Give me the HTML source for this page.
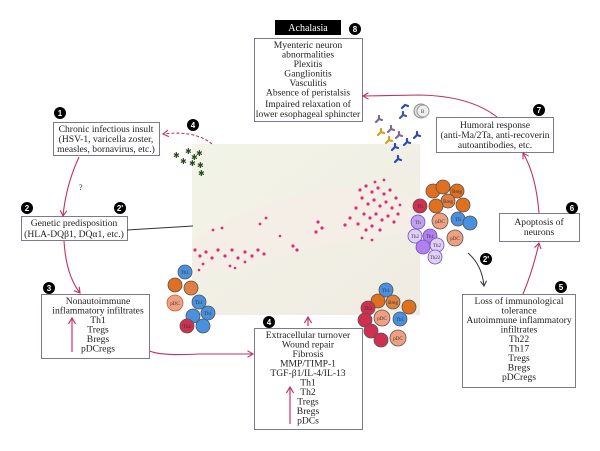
<!DOCTYPE html>
<html><head><meta charset="utf-8"><style>
html,body{margin:0;padding:0;background:#fff;width:600px;height:451px;overflow:hidden}
svg{display:block}
text{font-family:"Liberation Serif",serif;font-size:9.6px;fill:#222}
.n{font-family:"Liberation Sans",sans-serif;font-size:8px;font-weight:bold;fill:#fff}
.b{fill:#fff;stroke:#7a7a8a;stroke-width:1}
.a{fill:none;stroke:#c0306a;stroke-width:1.1}
.c{font-family:"Liberation Serif",serif;font-size:5px;fill:#333}
</style></head><body>
<svg width="600" height="451" viewBox="0 0 600 451">
<defs>
<marker id="m" markerWidth="8" markerHeight="8" refX="6" refY="4" orient="auto"><path d="M1,1 L6,4 L1,7" fill="none" stroke="#c0306a" stroke-width="1"/></marker>
<marker id="k" markerWidth="8" markerHeight="8" refX="6" refY="4" orient="auto"><path d="M1,1 L6,4 L1,7" fill="none" stroke="#333" stroke-width="1"/></marker>
<linearGradient id="g" x1="0" y1="0" x2="1" y2="1"><stop offset="0" stop-color="#f2f4e8"/><stop offset="1" stop-color="#f0ebe2"/></linearGradient>
</defs>
<rect x="192" y="144" width="228" height="171" fill="url(#g)"/>
<path d="M192,240 Q260,200 330,190 Q380,180 420,200 L420,230 Q360,240 300,250 Q240,270 192,275Z" fill="#f5ede6" opacity="0.8"/>
<g fill="#d6307a">
<circle cx="360" cy="190" r="1.6"/><circle cx="366" cy="186" r="1.6"/><circle cx="372" cy="192" r="1.6"/><circle cx="378" cy="188" r="1.6"/><circle cx="384" cy="194" r="1.6"/><circle cx="390" cy="190" r="1.6"/><circle cx="362" cy="198" r="1.6"/><circle cx="368" cy="204" r="1.6"/><circle cx="374" cy="200" r="1.6"/><circle cx="380" cy="206" r="1.6"/><circle cx="386" cy="202" r="1.6"/><circle cx="392" cy="208" r="1.6"/><circle cx="396" cy="198" r="1.6"/><circle cx="356" cy="208" r="1.6"/><circle cx="364" cy="214" r="1.6"/><circle cx="370" cy="218" r="1.6"/><circle cx="376" cy="214" r="1.6"/><circle cx="382" cy="220" r="1.6"/><circle cx="388" cy="216" r="1.6"/><circle cx="394" cy="222" r="1.6"/><circle cx="398" cy="214" r="1.6"/><circle cx="350" cy="218" r="1.6"/><circle cx="358" cy="224" r="1.6"/><circle cx="372" cy="226" r="1.6"/><circle cx="380" cy="230" r="1.6"/><circle cx="366" cy="230" r="1.6"/><circle cx="345" cy="225" r="1.6"/><circle cx="375" cy="182" r="1.4"/><circle cx="384" cy="180" r="1.4"/><circle cx="400" cy="205" r="1.4"/><circle cx="318" cy="222" r="1.6"/><circle cx="322" cy="228" r="1.6"/><circle cx="316" cy="232" r="1.6"/><circle cx="260" cy="224" r="1.4"/><circle cx="266" cy="218" r="1.4"/><circle cx="213" cy="230" r="1.4"/><circle cx="222" cy="228" r="1.4"/><circle cx="195" cy="250" r="1.6"/><circle cx="200" cy="256" r="1.6"/><circle cx="206" cy="252" r="1.6"/><circle cx="212" cy="258" r="1.6"/><circle cx="218" cy="250" r="1.6"/><circle cx="225" cy="256" r="1.6"/><circle cx="232" cy="250" r="1.6"/><circle cx="238" cy="258" r="1.6"/><circle cx="245" cy="252" r="1.6"/><circle cx="252" cy="256" r="1.6"/><circle cx="258" cy="250" r="1.6"/><circle cx="264" cy="254" r="1.6"/><circle cx="203" cy="264" r="1.4"/><circle cx="230" cy="266" r="1.4"/><circle cx="245" cy="262" r="1.4"/><circle cx="293" cy="246" r="1.6"/><circle cx="297" cy="250" r="1.6"/><circle cx="362" cy="238" r="1.4"/><circle cx="372" cy="240" r="1.4"/><circle cx="280" cy="236" r="1.3"/><circle cx="235" cy="268" r="1.3"/><circle cx="199" cy="270" r="1.3"/>
</g>
<rect x="275" y="20" width="66" height="15" fill="#000"/>
<text x="308" y="31" text-anchor="middle" style="fill:#fff;font-size:10px">Achalasia</text>
<rect class="b" x="254.5" y="38.5" width="108" height="83"/>
<g text-anchor="middle"><text x="308" y="48">Myenteric neuron</text><text x="308" y="57.5">abnormalities</text><text x="308" y="67">Plexitis</text><text x="308" y="76.5">Ganglionitis</text><text x="308" y="86">Vasculitis</text><text x="308" y="95.5">Absence of peristalsis</text><text x="308" y="107">Impaired relaxation of</text><text x="308" y="117">lower esophageal sphincter</text></g>
<rect class="b" x="53.5" y="122.5" width="106" height="33"/>
<g text-anchor="middle"><text x="106" y="132">Chronic infectious insult</text><text x="106" y="142">(HSV-1, varicella zoster,</text><text x="106" y="152">measles, bornavirus, etc.)</text></g>
<rect class="b" x="21.5" y="216.5" width="106" height="24"/>
<g text-anchor="middle"><text x="74" y="226">Genetic predisposition</text><text x="74" y="237">(HLA-DQβ1, DQα1, etc.)</text></g>
<rect class="b" x="41.5" y="294.5" width="108" height="64"/>
<g text-anchor="middle"><text x="98" y="304">Nonautoimmune</text><text x="98" y="313.5">inflammatory infiltrates</text><text x="98" y="323">Th1</text><text x="98" y="332.5">Tregs</text><text x="98" y="342">Bregs</text><text x="98" y="351.5">pDCregs</text></g>
<line x1="72" y1="352" x2="72" y2="318" stroke="#d0306a" stroke-width="1.2" marker-end="url(#m)"/>
<rect class="b" x="254.5" y="328.5" width="108" height="101"/>
<g text-anchor="middle"><text x="308" y="338">Extracellular turnover</text><text x="308" y="347.5">Wound repair</text><text x="308" y="357">Fibrosis</text><text x="308" y="366.5">MMP/TIMP-1</text><text x="308" y="376">TGF-β1/IL-4/IL-13</text><text x="308" y="385.5">Th1</text><text x="308" y="395">Th2</text><text x="308" y="404.5">Tregs</text><text x="308" y="414">Bregs</text><text x="308" y="423.5">pDCs</text></g>
<line x1="290" y1="424" x2="290" y2="387" stroke="#d0306a" stroke-width="1.2" marker-end="url(#m)"/>
<line x1="308" y1="326" x2="308" y2="317" stroke="#d0306a" stroke-width="1.2" marker-end="url(#m)"/>
<rect class="b" x="462.5" y="294.5" width="113" height="93"/>
<g text-anchor="middle"><text x="519" y="304">Loss of immunological</text><text x="519" y="313.5">tolerance</text><text x="519" y="323">Autoimmune inflammatory</text><text x="519" y="332.5">infiltrates</text><text x="519" y="342">Th22</text><text x="519" y="351.5">Th17</text><text x="519" y="361">Tregs</text><text x="519" y="370.5">Bregs</text><text x="519" y="380">pDCregs</text></g>
<rect class="b" x="499.5" y="213.5" width="80" height="28"/>
<g text-anchor="middle"><text x="539" y="225">Apoptosis of</text><text x="539" y="235">neurons</text></g>
<rect class="b" x="436.5" y="117.5" width="117" height="35"/>
<g text-anchor="middle"><text x="495" y="128">Humoral response</text><text x="495" y="138">(anti-Ma/2Ta, anti-recoverin</text><text x="495" y="148">autoantibodies, etc.</text></g>
<g fill="#000"><circle cx="60" cy="113" r="6"/><circle cx="193" cy="125" r="6"/><circle cx="27" cy="208" r="6"/><circle cx="120" cy="208" r="6"/><circle cx="49" cy="288" r="6"/><circle cx="269" cy="322" r="6"/><circle cx="561" cy="287" r="6"/><circle cx="572" cy="208" r="6"/><circle cx="539" cy="110" r="6"/><circle cx="355" cy="29" r="6"/><circle cx="486" cy="259" r="6"/></g>
<g text-anchor="middle"><text class="n" x="60" y="116">1</text><text class="n" x="193" y="128">4</text><text class="n" x="27" y="211">2</text><text class="n" x="120" y="211">2'</text><text class="n" x="49" y="291">3</text><text class="n" x="269" y="325">4</text><text class="n" x="561" y="290">5</text><text class="n" x="572" y="211">6</text><text class="n" x="539" y="113">7</text><text class="n" x="355" y="32">8</text><text class="n" x="486" y="262">2'</text></g>
<path class="a" d="M79,157 Q66,185 63,216" marker-end="url(#m)"/>
<text x="79" y="190" style="font-size:8px">?</text>
<path class="a" d="M64,241 Q66,275 80,293" marker-end="url(#m)"/>
<path class="a" d="M150,351 Q160,356 200,354 L253,354" marker-end="url(#m)"/>
<path class="a" d="M523,294 Q533,270 539,243" marker-end="url(#m)"/>
<path class="a" d="M539,213 Q536,175 523,153" marker-end="url(#m)"/>
<path class="a" d="M497,117 Q470,96 420,95 L363,96" marker-end="url(#m)"/>
<path class="a" d="M212,144 Q195,130 163,134" stroke-dasharray="3,2" marker-end="url(#m)"/>
<line x1="127" y1="230" x2="193" y2="226" stroke="#333" stroke-width="1"/>
<path d="M468,253 Q482,265 484,286" fill="none" stroke="#333" stroke-width="1" marker-end="url(#k)"/>
<g style="font-size:8px">
<text x="173" y="158" style="fill:#2a4a20;font-size:8px">✱</text><text x="180" y="164" style="fill:#2a4a20;font-size:8px">✱</text><text x="185" y="154" style="fill:#2a4a20;font-size:8px">✱</text><text x="191" y="160" style="fill:#2a4a20;font-size:8px">✱</text><text x="196" y="156" style="fill:#2a4a20;font-size:8px">✱</text><text x="189" y="166" style="fill:#2a4a20;font-size:8px">✱</text><text x="197" y="168" style="fill:#2a4a20;font-size:8px">✱</text><text x="198" y="176" style="fill:#2a4a20;font-size:8px">✱</text>
</g>
<g stroke-width="2.2" fill="none" stroke-linecap="round">
<path d="M376,122 l3,-3 l3,1 M379,119 l0,-3" stroke="#7a6a9a"/><path d="M400,118 l3,-3 l3,1 M403,115 l0,-3" stroke="#3a5ab0"/>
<path d="M378,135 l3,-3 l3,1 M381,132 l0,-3" stroke="#d0a020"/><path d="M388,132 l3,-3 l3,1 M391,129 l0,-3" stroke="#7a6a9a"/><path d="M396,138 l3,-3 l3,1 M399,135 l0,-3" stroke="#7a6a9a"/>
<path d="M392,150 l3,-3 l3,1 M395,147 l0,-3" stroke="#2a4ab0"/><path d="M404,145 l3,-3 l3,1 M407,142 l0,-3" stroke="#2a4ab0"/><path d="M386,143 l3,-3 l3,1 M389,140 l0,-3" stroke="#d0a020"/>
<path d="M395,162 l3,-3 l3,1 M398,159 l0,-3" stroke="#2a4ab0"/><path d="M402,108 l3,-3 l3,1" stroke="#2a4ab0"/><path d="M414,138 l3,-3 l3,1 M417,135 l0,-3" stroke="#2a4ab0"/>
</g>
<circle cx="421" cy="111" r="7" fill="#e0e0e0" stroke="#888"/><circle cx="423" cy="111" r="6" fill="#eee" stroke="#999"/><text class="c" x="421" y="113">B</text>
<g stroke-width="0.8" stroke="#555">
<circle cx="185" cy="272" r="7" fill="#4a90e0"/><circle cx="175" cy="285" r="7" fill="#e07020"/><circle cx="191" cy="288" r="7" fill="#e08040"/>
<circle cx="175" cy="303" r="8" fill="#f0a080" stroke="#c06040"/>
<circle cx="199" cy="302" r="7" fill="#4a90e0"/><circle cx="208" cy="313" r="7" fill="#4a90e0"/><circle cx="193" cy="316" r="7" fill="#4a90e0"/><circle cx="203" cy="326" r="7" fill="#4a90e0"/><circle cx="187" cy="326" r="7" fill="#d03050"/>
<circle cx="386" cy="290" r="7" fill="#4a90e0"/><circle cx="378" cy="301" r="7" fill="#e07020"/><circle cx="393" cy="302" r="7" fill="#e08040"/><circle cx="409" cy="307" r="7" fill="#e07020"/>
<circle cx="368" cy="308" r="7" fill="#d03050"/><circle cx="365" cy="320" r="7" fill="#d03050"/><circle cx="371" cy="331" r="7" fill="#d03050"/><circle cx="381" cy="340" r="7" fill="#d03050"/>
<circle cx="382" cy="318" r="8" fill="#f0a080"/><circle cx="398" cy="338" r="8" fill="#f0a080"/><circle cx="400" cy="319" r="7" fill="#4a90e0"/>
<circle cx="433" cy="191" r="7" fill="#e07020"/><circle cx="443" cy="187" r="7" fill="#e07020"/><circle cx="457" cy="191" r="7" fill="#e07020"/><circle cx="448" cy="201" r="7" fill="#e08040"/><circle cx="463" cy="205" r="7" fill="#e07020"/><circle cx="420" cy="206" r="7" fill="#d03050"/><circle cx="436" cy="206" r="7" fill="#e07020"/>
<circle cx="440" cy="221" r="8" fill="#f0a080"/><circle cx="458" cy="219" r="7" fill="#4a90e0"/><circle cx="470" cy="223" r="7" fill="#4a90e0"/>
<circle cx="418" cy="222" r="7" fill="#c0a0f0" stroke="#7050c0"/><circle cx="415" cy="236" r="7" fill="#e0d0f8" stroke="#7050c0"/><circle cx="430" cy="236" r="7" fill="#b080f0" stroke="#7050c0"/><circle cx="423" cy="247" r="7" fill="#b080f0" stroke="#7050c0"/><circle cx="437" cy="245" r="7" fill="#e0d0f8" stroke="#7050c0"/><circle cx="435" cy="257" r="7" fill="#e0d0f8" stroke="#7050c0"/><circle cx="455" cy="238" r="8" fill="#f0a080"/>
</g>
<g class="c" text-anchor="middle">
<text class="c" x="185" y="274">Th1</text><text class="c" x="175" y="305">pDC</text><text class="c" x="199" y="304">Th1</text><text class="c" x="208" y="315">Th1</text><text class="c" x="187" y="328">Th2</text>
<text class="c" x="386" y="292">Th1</text><text class="c" x="393" y="304">Breg</text><text class="c" x="368" y="310">Th2</text><text class="c" x="382" y="320">pDC</text><text class="c" x="400" y="321">Th1</text><text class="c" x="398" y="340">pDC</text>
<text class="c" x="457" y="193">Breg</text><text class="c" x="448" y="203">Breg</text><text class="c" x="420" y="208">Th</text><text class="c" x="440" y="223">pDC</text><text class="c" x="458" y="221">Th</text><text class="c" x="418" y="224">Th</text><text class="c" x="415" y="238">Th2</text><text class="c" x="430" y="238">Th1</text><text class="c" x="437" y="247">Th2</text><text class="c" x="435" y="259">Th22</text><text class="c" x="455" y="240">pDC</text>
</g>
</svg>
</body></html>
